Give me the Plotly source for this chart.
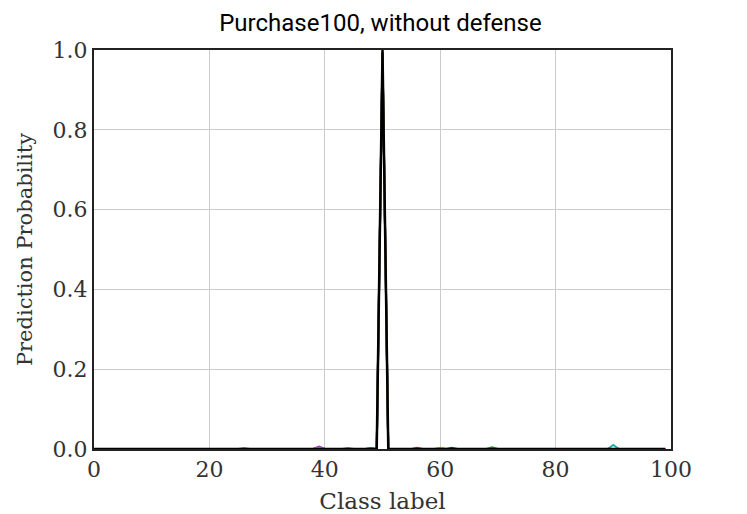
import plotly.graph_objs as go

# Class labels 0..99 (Purchase100)
classes = list(range(100))

# Nonzero prediction probabilities per sample: (class, prob)
sample_names = ['s1', 's2', 's3', 's4', 's5', 's6', 's7']
sample_colors = ['#1f3f9a', '#2e8b2e', '#b03030', '#20b2aa', '#9a30b0', '#b0a020', '#000000']
sample_probs = [
    [(50, 0.995), (62, 0.003), (48, 0.002)],
    [(50, 0.990), (69, 0.004), (39, 0.004), (48, 0.002)],
    [(50, 0.993), (44, 0.002), (56, 0.003), (26, 0.002)],
    [(50, 0.988), (90, 0.010)],
    [(50, 0.992), (39, 0.006), (60, 0.002)],
    [(50, 0.994), (60, 0.003), (39, 0.003)],
    [(50, 1.000)],
]

fig = go.Figure()

for nome, cor, pares in zip(sample_names, sample_colors, sample_probs):
    y = [0.0] * len(classes)
    for c, p in pares:
        y[c] = p
    fig.add_trace(go.Scatter(x=classes, y=y, mode='lines', name=nome,
                             line=dict(color=cor, width=2.5 if cor == '#000000' else 2)))

serif_ticks = dict(family='DejaVu Serif, serif', size=22, color='#333333')

fig.update_layout(
    title=dict(text='Purchase100, without defense', x=0.504, xanchor='center',
               yref='container', y=0.972, yanchor='middle',
               font=dict(family='Roboto, sans-serif', size=24, color='black')),
    width=739,
    height=506,
    template='plotly_white',
    showlegend=False,
    plot_bgcolor='white',
    paper_bgcolor='white',
    margin=dict(l=86, r=76, t=42, b=65),
    xaxis=dict(
        range=[0, 100], tickvals=[0, 20, 40, 60, 80, 100],
        showgrid=True, gridcolor='#cccccc', gridwidth=1,
        zeroline=False, showline=True, linecolor='#222222', linewidth=2, mirror=True,
        ticks='', tickfont=serif_ticks, automargin=False,
        title=dict(text='Class label', font=dict(family='DejaVu Serif, serif', size=23, color='#333333'), standoff=12),
    ),
    yaxis=dict(
        range=[0, 1], tickvals=[0, 0.2, 0.4, 0.6, 0.8, 1.0], tickformat='.1f',
        showgrid=True, gridcolor='#cccccc', gridwidth=1,
        zeroline=False, showline=True, linecolor='#222222', linewidth=2, mirror=True,
        ticks='', tickfont=serif_ticks, automargin=False,
        title=dict(text='Prediction Probability', font=dict(family='DejaVu Serif, serif', size=21, color='#333333'), standoff=14),
    ),
)

fig.write_html('out.html')
